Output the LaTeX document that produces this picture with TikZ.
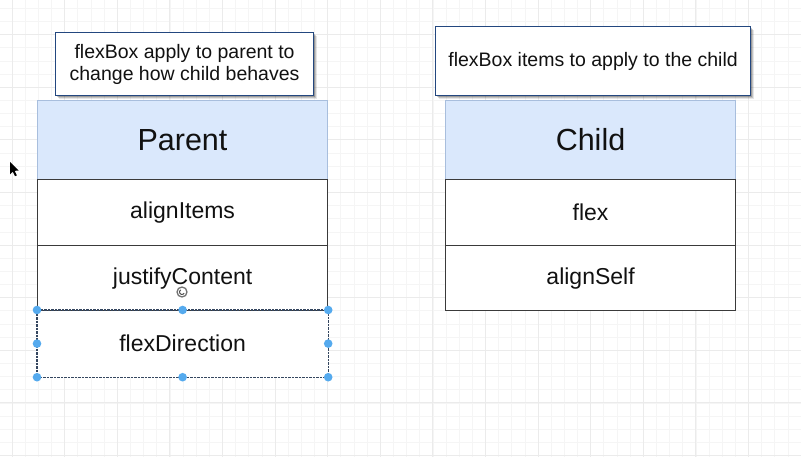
\documentclass[tikz,border=0pt]{standalone}
\usepackage{fontspec}
\setmainfont{Liberation Sans}
\begin{document}
\begin{tikzpicture}[x=1pt,y=-1pt,
  minorgrid/.style={draw=black!4,line width=0.6pt},
  majorgrid/.style={draw=black!8,line width=0.8pt},
  hdrcell/.style={draw=hdrborder,fill=hdrfill,line width=1pt,anchor=north west,inner sep=0pt,
     minimum width=290pt,minimum height=79pt,text=txt,font=\fontsize{30.5}{36}\selectfont},
  rowcell/.style={draw=rowborder,fill=white,line width=1.2pt,anchor=north west,inner sep=0pt,
     minimum width=290pt,text=txt,font=\fontsize{23}{27}\selectfont},
  notebox/.style={draw=noteborder,fill=white,line width=1.1pt,anchor=north west,inner sep=0pt,
     align=center,text=txt,font=\fontsize{19.5}{22}\selectfont},
  selbox/.style={draw=selcol,line width=1.1pt,dash pattern=on 2.5pt off 1pt},
  handle/.style={fill=handlecol,draw=none},
]
\definecolor{hdrfill}{HTML}{DAE8FC}
\definecolor{hdrborder}{HTML}{A8BEDD}
\definecolor{rowborder}{HTML}{3A3A3A}
\definecolor{noteborder}{HTML}{23477F}
\definecolor{txt}{HTML}{111111}
\definecolor{selcol}{HTML}{34465F}
\definecolor{handlecol}{HTML}{55AAEE}
\useasboundingbox[fill=white] (0,0) rectangle (801,457);
% grid
\foreach \i in {0,...,61} {\draw[minorgrid] ({-1.15+13.15*\i},0) -- ++(0,457);}
\foreach \i in {0,...,35} {\draw[minorgrid] (0,{8.3+13.15*\i}) -- ++(801,0);}
\foreach \i in {0,...,15} {\draw[majorgrid] ({12+52.6*\i},0) -- ++(0,457);}
\foreach \i in {0,...,8} {\draw[majorgrid] (0,{34.6+52.6*\i}) -- ++(801,0);}
% parent table
\node[hdrcell] (ph) at (37,100) {Parent};
\node[rowcell,minimum height=66pt] (pr1) at (37,179) {\raisebox{-1.5pt}{alignItems}};
\node[rowcell,minimum height=65pt] (pr2) at (37,245) {\raisebox{-1.5pt}{justifyContent}};
\node[rowcell,minimum height=66pt,draw=none] (pr3) at (37,310) {\raisebox{-1.5pt}{flexDirection}};
\draw[selbox] (pr3.north west) rectangle (pr3.south east);
\foreach \a in {north west,north,north east,west,east,south west,south,south east}
  {\fill[handle] (pr3.\a) circle (4.3pt);}
% child table
\node[hdrcell] (chh) at (445,100) {Child};
\node[rowcell,minimum height=66pt] (cr1) at (445,179) {\raisebox{-1.5pt}{flex}};
\node[rowcell,minimum height=65pt] (cr2) at (445,245) {\raisebox{-1.5pt}{alignSelf}};
% notes with shadows
\foreach \d/\o in {4/0.10,3/0.15,2/0.2} {
  \fill[black,opacity=\o] ({55+\d},{32+\d}) rectangle ({313+\d},{95+\d});
  \fill[black,opacity=\o] ({435+\d},{26+\d}) rectangle ({750+\d},{95+\d});
}
\node[notebox,minimum width=258pt,minimum height=63pt] (n1) at (55,32)
  {flexBox apply to parent to\\change how child behaves};
\node[notebox,minimum width=315pt,minimum height=69pt] (n2) at (435,26)
  {flexBox items to apply to the child};
% cursors
\fill[black] (10,162) -- (10,174.5) -- (12.8,171.6) -- (15,176.2) -- (16.8,175.4) -- (14.7,170.8) -- (18.6,170.6) -- cycle;
\draw[black!55,line width=1.3pt,fill=white,fill opacity=0.6] (182,292) circle (5pt);
\draw[black!70,line width=1pt] (182,292) ++(120:2.5pt) arc (120:330:2.5pt);
\end{tikzpicture}
\end{document}
